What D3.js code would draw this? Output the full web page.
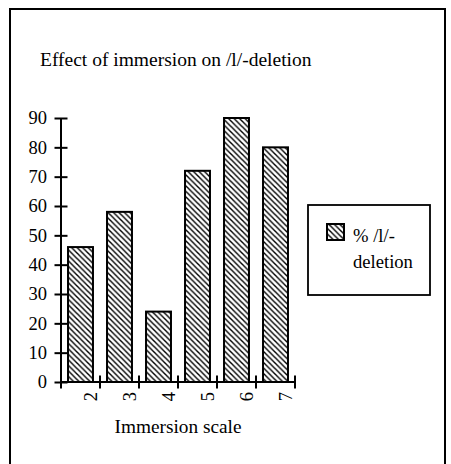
<!DOCTYPE html>
<html>
<head>
<meta charset="utf-8">
<script src="https://cdn.jsdelivr.net/npm/d3@7"></script>
<style>
  html, body { margin: 0; padding: 0; background: #fff; }
  svg { display: block; }
  text { font-family: "Liberation Serif", "Times New Roman", Times, serif; fill: #000; }
</style>
</head>
<body>
<script>
const categories = ["2", "3", "4", "5", "6", "7"];
const values = [46, 58, 24, 72, 90, 80];
const yTicks = [0, 10, 20, 30, 40, 50, 60, 70, 80, 90];
const titleText = "Effect of immersion on /l/-deletion";
const xTitle = "Immersion scale";
const legendLines = ["% /l/-", "deletion"];

const W = 451, H = 464;
const svg = d3.select("body").append("svg").attr("width", W).attr("height", H);

const defs = svg.append("defs");
const pat = defs.append("pattern")
  .attr("id", "hatch").attr("patternUnits", "userSpaceOnUse")
  .attr("width", 5.5).attr("height", 5.5);
pat.append("rect").attr("width", 5.5).attr("height", 5.5).attr("fill", "#fff");
pat.append("path")
  .attr("d", "M0,0 L5.5,5.5 M-1,4.5 L1,6.5 M4.5,-1 L6.5,1")
  .attr("stroke", "#000").attr("stroke-width", 1.4);

// outer frame
svg.append("rect").attr("x", 10).attr("y", 9).attr("width", 435).attr("height", 520)
  .attr("fill", "none").attr("stroke", "#000").attr("stroke-width", 2);

// title
svg.append("text").attr("x", 40).attr("y", 66).attr("font-size", 19.5).text(titleText);

const x0 = 61, x1 = 295, yBase = 382, yTop = 118;
const x = d3.scaleBand().domain(categories).range([x0, x1]).paddingInner(0.36).paddingOuter(0.18);
const y = d3.scaleLinear().domain([0, 90]).range([yBase, yTop]);
const step = x.step();
const gap = (step - x.bandwidth()) / 2;

// bars
svg.append("g").selectAll("rect").data(values).join("rect")
  .attr("x", (d, i) => x(categories[i]))
  .attr("y", d => y(d))
  .attr("width", x.bandwidth())
  .attr("height", d => y(0) - y(d))
  .attr("fill", "url(#hatch)")
  .attr("stroke", "#000").attr("stroke-width", 2);

// y axis
const yAxis = svg.append("g").attr("transform", `translate(${x0},0)`)
  .call(d3.axisLeft(y).tickValues(yTicks).tickSize(6.5).tickPadding(8));
yAxis.select(".domain").attr("stroke", "#000").attr("stroke-width", 2).attr("d", `M0,${yTop}V${yBase}`);
yAxis.selectAll(".tick line").attr("x1", -6.5).attr("x2", 6.5).attr("stroke", "#000").attr("stroke-width", 2);
yAxis.selectAll(".tick text").attr("x", -14).attr("font-size", 18.5)
  .attr("font-family", "Liberation Serif, Times New Roman, serif").attr("fill", "#000");

// x axis
const xAxis = svg.append("g").attr("transform", `translate(0,${yBase})`)
  .call(d3.axisBottom(x).tickSize(0).tickFormat(""));
xAxis.select(".domain").attr("stroke", "#000").attr("stroke-width", 2).attr("d", `M${x0},0H${x1}`);
const bounds = categories.map(c => x(c) - gap).concat([x1]);
xAxis.selectAll(".bound").data(bounds).join("line").attr("class", "bound")
  .attr("x1", d => d).attr("x2", d => d).attr("y1", -6.5).attr("y2", 6.5)
  .attr("stroke", "#000").attr("stroke-width", 2);
xAxis.selectAll(".tick text").remove();
xAxis.selectAll(".lbl").data(categories).join("text").attr("class", "lbl")
  .attr("transform", c => `translate(${x(c) + x.bandwidth() / 2 + 16},10) rotate(-90)`)
  .attr("text-anchor", "end").attr("font-size", 18.5).text(c => c);

// x title
svg.append("text").attr("x", 178).attr("y", 433).attr("text-anchor", "middle")
  .attr("font-size", 19.3).text(xTitle);

// legend
const lg = svg.append("g");
lg.append("rect").attr("x", 308).attr("y", 205).attr("width", 122).attr("height", 90)
  .attr("fill", "#fff").attr("stroke", "#000").attr("stroke-width", 1.8);
lg.append("rect").attr("x", 327).attr("y", 224).attr("width", 17).attr("height", 16)
  .attr("fill", "url(#hatch)").attr("stroke", "#000").attr("stroke-width", 2);
lg.selectAll(".lt").data(legendLines).join("text").attr("class", "lt")
  .attr("x", 353).attr("y", (d, i) => 241.5 + i * 26).attr("font-size", 18.6).text(d => d);
</script>
</body>
</html>
